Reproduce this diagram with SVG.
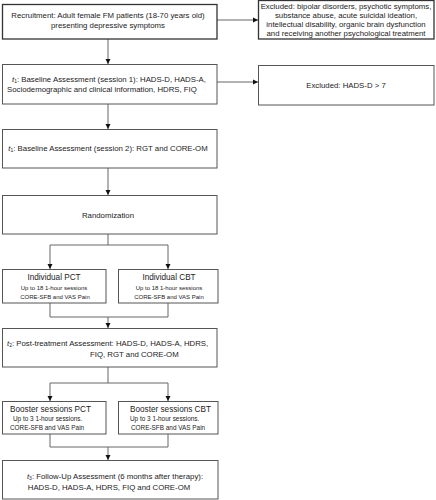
<svg xmlns="http://www.w3.org/2000/svg" width="436" height="500" viewBox="0 0 436 500">
<style>
.box{fill:#fff;stroke:#555;stroke-width:1}
.dark{stroke:#333;stroke-width:1.3}
.t{font-family:"Liberation Sans",Arial,sans-serif;font-size:7.8px;fill:#222}
.m{font-size:8.2px}
.s{font-size:6px}
.sb{font-size:6.4px}
.c{text-anchor:middle}
.i{font-style:italic}
.sub{font-size:5px}
.con{fill:none;stroke:#666;stroke-width:1}
</style>
<defs>
<marker id="ah" markerUnits="userSpaceOnUse" markerWidth="6" markerHeight="6" refX="5" refY="3" orient="auto">
<path d="M0,0.5 L5,3 L0,5.5 Z" fill="#111"/>
</marker>
</defs>
<g id="connectors">
<path class="con" d="M108,39 V64" marker-end="url(#ah)"/>
<path class="con" d="M217,20 H258" marker-end="url(#ah)"/>
<path class="con" d="M217,82 H258" marker-end="url(#ah)"/>
<path class="con" d="M108,104 V129" marker-end="url(#ah)"/>
<path class="con" d="M108,168 V195" marker-end="url(#ah)"/>
<path class="con" d="M108,234 V245 M50,245 H168"/>
<path class="con" d="M50,245 V269" marker-end="url(#ah)"/>
<path class="con" d="M168,245 V269" marker-end="url(#ah)"/>
<path class="con" d="M50,303 V317 H168 V303"/>
<path class="con" d="M108,317 V328" marker-end="url(#ah)"/>
<path class="con" d="M108,367 V383 M50,383 H168"/>
<path class="con" d="M50,383 V401" marker-end="url(#ah)"/>
<path class="con" d="M168,383 V401" marker-end="url(#ah)"/>
<path class="con" d="M50,434 V447 H168 V434"/>
<path class="con" d="M108,447 V460" marker-end="url(#ah)"/>
</g>
<g id="recruitment">
<rect class="box dark" x="2.5" y="4.5" width="214.5" height="34.5"/>
<text class="t c" x="108" y="18">Recruitment: Adult female FM patients (18-70 years old)</text>
<text class="t c" x="108" y="28">presenting depressive symptoms</text>
</g>
<g id="excluded1">
<rect class="box dark" x="258.5" y="0.5" width="175.5" height="38.5"/>
<text class="t c" x="346" y="9">Excluded: bipolar disorders, psychotic symptoms,</text>
<text class="t c" x="346" y="18">substance abuse, acute suicidal ideation,</text>
<text class="t c" x="346" y="27">intellectual disability, organic brain dysfunction</text>
<text class="t c" x="346" y="36">and receiving another psychological  treatment</text>
</g>
<g id="baseline1">
<rect class="box" x="2.5" y="64.5" width="214.5" height="39.5"/>
<text class="t" x="12" y="82"><tspan class="i">t</tspan><tspan class="sub" dy="1">1</tspan><tspan dy="-1">: Baseline Assessment (session 1): HADS-D, HADS-A,</tspan></text>
<text class="t" x="7" y="92">Sociodemographic and clinical information, HDRS, FIQ</text>
</g>
<g id="excluded2">
<rect class="box" x="258.5" y="65.5" width="175.5" height="39.5"/>
<text class="t c" x="346" y="88">Excluded: HADS-D &gt; 7</text>
</g>
<g id="baseline2">
<rect class="box" x="2.5" y="129.5" width="214.5" height="38.5"/>
<text class="t c" x="108" y="151"><tspan class="i">t</tspan><tspan class="sub" dy="1">1</tspan><tspan dy="-1">: Baseline Assessment (session 2): RGT and CORE-OM</tspan></text>
</g>
<g id="randomization">
<rect class="box" x="2.5" y="195.5" width="214.5" height="38.5"/>
<text class="t c" x="108" y="218">Randomization</text>
</g>
<g id="pct">
<rect class="box" x="2.5" y="269.5" width="103.5" height="33.5"/>
<text class="t m c" x="54" y="280">Individual PCT</text>
<text class="t s c" x="54" y="290">Up to 18 1-hour sessions</text>
<text class="t s c" x="55" y="299">CORE-SFB and VAS Pain</text>
</g>
<g id="cbt">
<rect class="box" x="118.5" y="269.5" width="99.5" height="33.5"/>
<text class="t m c" x="169" y="280">Individual CBT</text>
<text class="t s c" x="169" y="290">Up to 18 1-hour sessions</text>
<text class="t s c" x="169" y="299">CORE-SFB and VAS Pain</text>
</g>
<g id="posttreatment">
<rect class="box" x="2.5" y="328.5" width="214.5" height="38.5"/>
<text class="t" x="7" y="346"><tspan class="i">t</tspan><tspan class="sub" dy="1">2</tspan><tspan dy="-1">: Post-treatment Assessment: HADS-D, HADS-A, HDRS,</tspan></text>
<text class="t" x="90" y="357">FIQ, RGT and CORE-OM</text>
</g>
<g id="boosterpct">
<rect class="box" x="2.5" y="401.5" width="103.5" height="32.5"/>
<text class="t m" x="10" y="412">Booster sessions PCT</text>
<text class="t sb" x="13" y="421">Up to 3 1-hour sessions.</text>
<text class="t sb" x="10" y="430">CORE-SFB and VAS Pain</text>
</g>
<g id="boostercbt">
<rect class="box" x="118.5" y="401.5" width="99.5" height="32.5"/>
<text class="t m" x="130" y="412">Booster sessions CBT</text>
<text class="t sb" x="130" y="421">Up to 3 1-hour sessions.</text>
<text class="t sb" x="131" y="430">CORE-SFB and VAS Pain</text>
</g>
<g id="followup">
<rect class="box" x="2.5" y="460.5" width="215.5" height="38.5"/>
<text class="t c" x="115" y="479"><tspan class="i">t</tspan><tspan class="sub" dy="1">3</tspan><tspan dy="-1">: Follow-Up Assessment (6 months after therapy):</tspan></text>
<text class="t c" x="109" y="490">HADS-D, HADS-A, HDRS, FIQ and CORE-OM</text>
</g>
</svg>
